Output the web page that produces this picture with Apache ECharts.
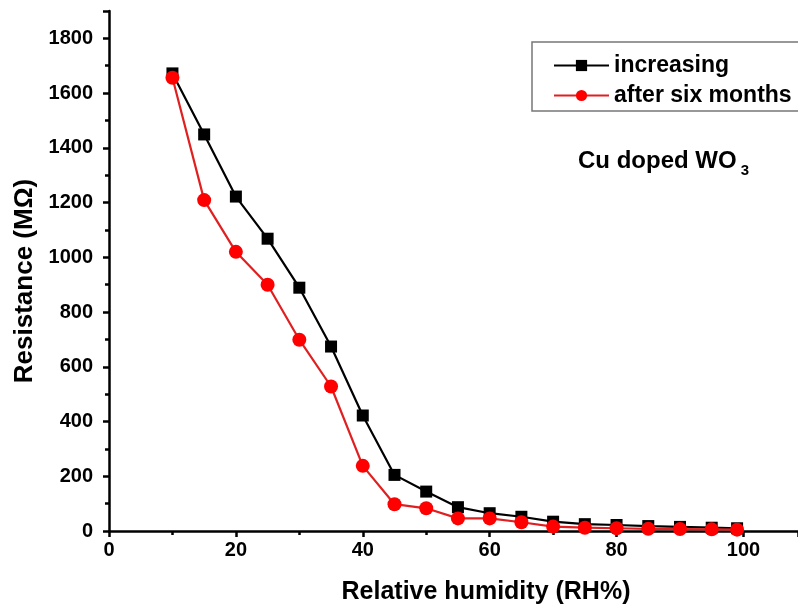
<!DOCTYPE html>
<html>
<head>
<meta charset="utf-8">
<script src="https://cdn.jsdelivr.net/npm/echarts@6/dist/echarts.min.js"></script>
<style>
  html, body { margin: 0; padding: 0; background: #fff; }
  #chart { width: 798px; height: 611px; }
</style>
</head>
<body>
<div id="chart"></div>
<script>
// Relative humidity (RH%) steps
const humidity = [10, 15, 20, 25, 30, 35, 40, 45, 50, 55, 60, 65, 70, 75, 80, 85, 90, 95, 99];
// Resistance (MΩ), freshly prepared sensor, increasing humidity
const increasing = [1672, 1449, 1222, 1068, 889, 674, 422, 205, 144, 87, 65, 52, 34, 25, 22, 18, 15, 12, 10];
// Resistance (MΩ), same sensor after six months
const afterSixMonths = [1656, 1209, 1020, 900, 699, 528, 238, 98, 83, 46, 46, 32, 16, 12, 10, 8, 7, 6, 5];

const FONT = '"Liberation Sans", Arial, sans-serif';

const pair = (xs, ys) => xs.map((x, i) => [x, ys[i]]);

const chart = echarts.init(document.getElementById('chart'), null, { renderer: 'canvas' });

const axisLine = { show: true, onZero: false, lineStyle: { color: '#000', width: 2.5 } };
const axisTick = { show: true, inside: false, length: 6, lineStyle: { color: '#000', width: 2.5 } };
const minorTick = { show: true, splitNumber: 2, length: 4, lineStyle: { color: '#000', width: 2.5 } };
const axisLabel = {
  color: '#000', fontFamily: FONT, fontWeight: 'bold', fontSize: 20,
  showMaxLabel: false,
  formatter: v => String(v)
};

chart.setOption({
  animation: false,
  backgroundColor: '#fff',
  grid: { left: 109, top: 11, right: 0, bottom: 80, containLabel: false },
  xAxis: {
    type: 'value',
    min: 0, max: 108.6, interval: 20,
    axisLine, axisTick, minorTick,
    axisLabel: Object.assign({}, axisLabel, { margin: 9 }),
    splitLine: { show: false }
  },
  yAxis: {
    type: 'value',
    min: 0, max: 1900, interval: 200,
    axisLine, axisTick, minorTick,
    axisLabel: Object.assign({}, axisLabel, { margin: 16 }),
    splitLine: { show: false }
  },
  legend: {
    orient: 'vertical',
    left: 532, top: 42,
    padding: [12, 60, 4, 21],
    itemGap: 7,
    itemWidth: 55, itemHeight: 14,
    borderColor: '#777', borderWidth: 1.5,
    textStyle: { color: '#000', fontFamily: FONT, fontWeight: 'bold', fontSize: 23, lineHeight: 22 },
    data: ['increasing', 'after six months']
  },
  graphic: [
    {
      // axis titles
      type: 'text',
      x: 486, y: 592,
      style: {
        text: 'Relative humidity (RH%)',
        fontFamily: FONT, fontWeight: 'bold', fontSize: 25, fill: '#000',
        align: 'center', verticalAlign: 'middle'
      }
    },
    {
      type: 'text',
      x: 25, y: 281,
      rotation: Math.PI / 2,
      style: {
        text: 'Resistance (MΩ)',
        fontFamily: FONT, fontWeight: 'bold', fontSize: 26, fill: '#000',
        align: 'center', verticalAlign: 'middle'
      }
    },
    {
      // sample label
      type: 'text',
      x: 578, y: 145,
      style: {
        text: '{m|Cu doped WO}{s|3}',
        rich: {
          m: { fontFamily: FONT, fontWeight: 'bold', fontSize: 24, fill: '#000' },
          s: { fontFamily: FONT, fontWeight: 'bold', fontSize: 15, fill: '#000', padding: [18, 0, 0, 4] }
        }
      }
    }
  ],
  series: [
    {
      name: 'increasing',
      type: 'line',
      data: pair(humidity, increasing),
      symbol: 'rect', symbolSize: 12,
      lineStyle: { color: '#000', width: 2.2 },
      itemStyle: { color: '#000' },
      z: 2
    },
    {
      name: 'after six months',
      type: 'line',
      data: pair(humidity, afterSixMonths),
      symbol: 'circle', symbolSize: 14,
      lineStyle: { color: '#e02020', width: 2.2 },
      itemStyle: { color: '#ff0000' },
      z: 3
    }
  ]
});
</script>
</body>
</html>
